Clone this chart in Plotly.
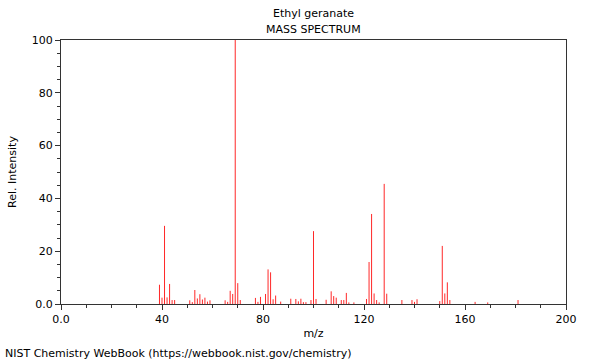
import plotly.graph_objects as go

title_line1 = "Ethyl geranate"
title_line2 = "MASS SPECTRUM"
credit = "NIST Chemistry WebBook (https://webbook.nist.gov/chemistry)"

mz = [39, 40, 41, 42, 43, 44, 45,
      51, 52, 53, 54, 55, 56, 57, 58, 59,
      65, 66, 67, 68, 69, 70, 71,
      77, 78, 79, 81, 82, 83, 84, 85, 87,
      91, 93, 94, 95, 96, 97, 99, 100, 101,
      105, 107, 108, 109, 111, 112, 113, 114, 116,
      121, 122, 123, 124, 125, 126, 128, 129,
      135, 139, 140, 141, 150, 151, 152, 153, 154,
      164, 169, 181]
intensity = [7.3, 2.4, 29.6, 2.5, 7.6, 1.5, 1.5,
             1.4, 0.7, 5.3, 2.1, 3.7, 1.7, 2.4, 0.9, 1.4,
             1.4, 0.8, 5.0, 3.8, 100.0, 7.9, 1.5,
             2.3, 0.8, 2.7, 3.8, 13.1, 12.0, 1.8, 3.2, 0.9,
             2.0, 1.9, 1.0, 2.0, 0.7, 0.7, 1.5, 27.6, 1.9,
             1.6, 4.8, 3.0, 2.4, 1.5, 1.5, 4.2, 0.6, 0.6,
             1.9, 15.9, 34.1, 4.0, 1.5, 0.6, 45.5, 3.9,
             1.5, 1.5, 0.8, 1.8, 1.1, 22.0, 4.0, 8.2, 1.5,
             0.8, 0.6, 1.5]

x_tickvals = [0, 40, 80, 120, 160, 200]
x_ticktext = ["0.0", "40", "80", "120", "160", "200"]
y_tickvals = [0, 20, 40, 60, 80, 100]
y_ticktext = ["0.0", "20", "40", "60", "80", "100"]

xs, ys = [], []
for m, v in zip(mz, intensity):
    xs += [m, m, None]
    ys += [0, v, None]

fig = go.Figure(go.Scatter(x=xs, y=ys, mode="lines",
                           line=dict(color="rgb(255,40,40)", width=1),
                           hoverinfo="skip", showlegend=False))

font = dict(family="DejaVu Sans", size=11, color="black")
axcol = "#333333"

fig.update_layout(
    width=600, height=360,
    margin=dict(l=61, r=34, t=40, b=56),
    paper_bgcolor="white", plot_bgcolor="white",
    font=font,
    xaxis=dict(range=[0, 200], tickvals=x_tickvals, ticktext=x_ticktext,
               ticks="outside", ticklen=5, tickcolor=axcol, showgrid=False, zeroline=False,
               showline=True, linecolor=axcol, linewidth=1, mirror=True,
               minor=dict(dtick=10, ticks="outside", ticklen=3, tickcolor=axcol, showgrid=False),
               title=dict(text="m/z", font=font, standoff=4)),
    yaxis=dict(range=[0, 100], tickvals=y_tickvals, ticktext=y_ticktext,
               ticks="outside", ticklen=5, tickcolor=axcol, showgrid=False, zeroline=False,
               showline=True, linecolor=axcol, linewidth=1, mirror=True,
               minor=dict(dtick=5, ticks="outside", ticklen=3, tickcolor=axcol, showgrid=False),
               title=dict(text="Rel. Intensity", font=font, standoff=12)),
    annotations=[
        dict(text=title_line1, xref="paper", yref="paper", x=0.5, y=1.102,
             xanchor="center", yanchor="middle", showarrow=False, font=font),
        dict(text=title_line2, xref="paper", yref="paper", x=0.5, y=1.038,
             xanchor="center", yanchor="middle", showarrow=False, font=font),
        dict(text=credit, xref="paper", yref="paper", x=-0.115, y=-0.186,
             xanchor="left", yanchor="middle", showarrow=False, font=font),
    ],
)

fig.write_html("out.html", config={"displayModeBar": False},
               post_script="document.body.style.margin='0';")
